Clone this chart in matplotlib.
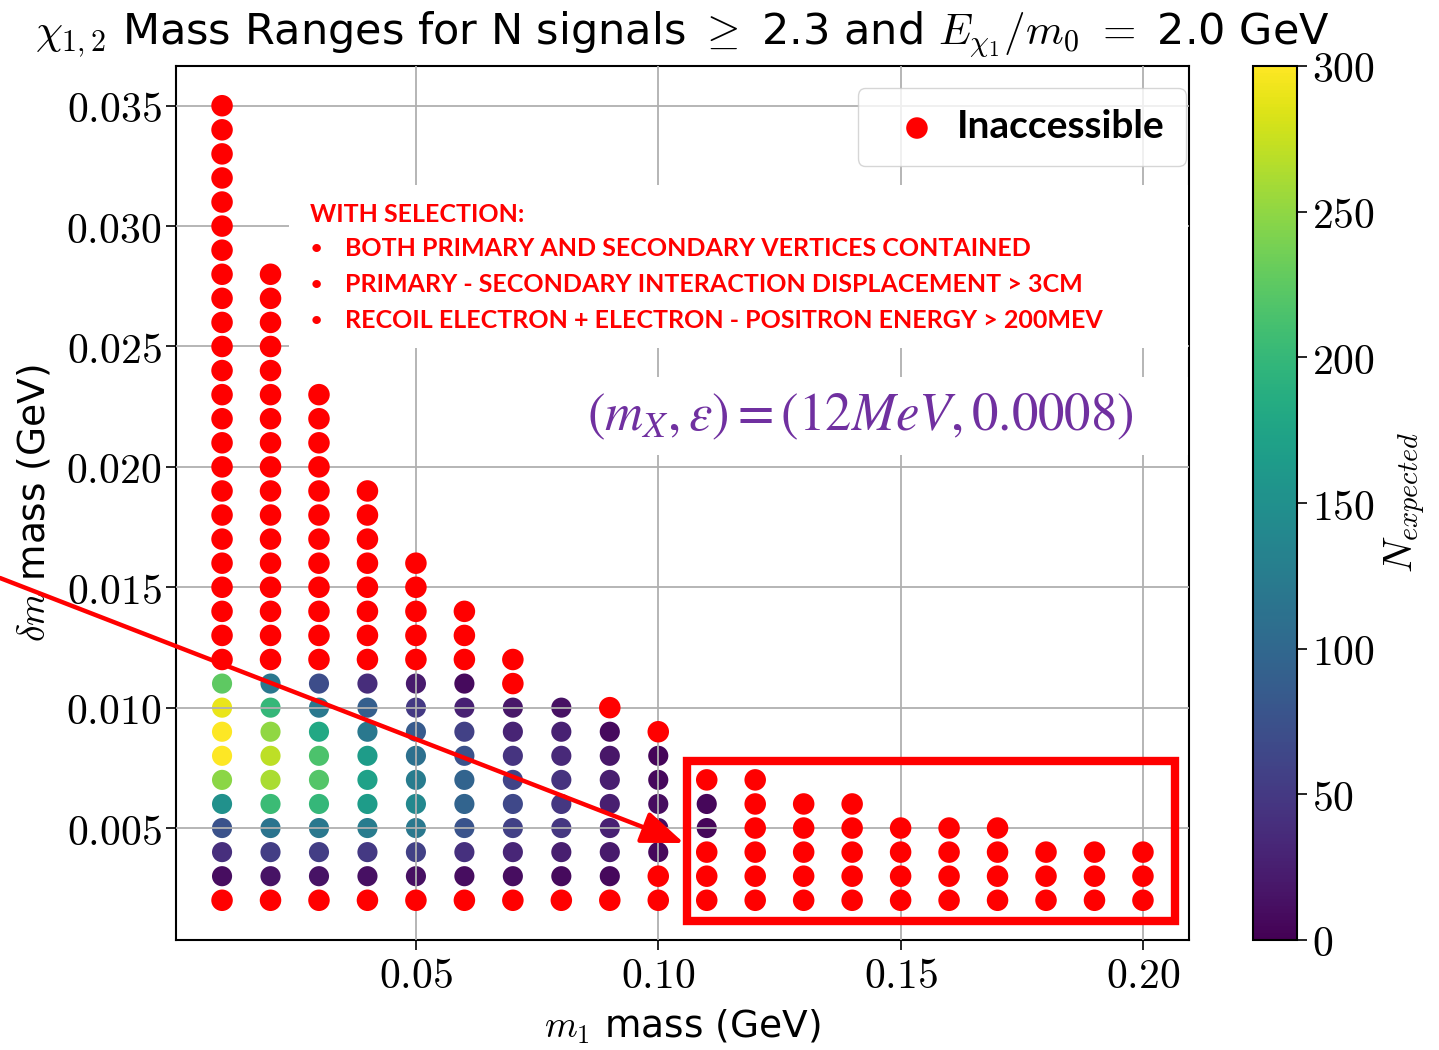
import matplotlib
matplotlib.use("Agg")
import matplotlib.pyplot as plt
from matplotlib.patches import Rectangle
from matplotlib.ticker import FuncFormatter

plt.rcParams['mathtext.fontset'] = 'cm'

# ---------------- data ----------------
m1_values = [0.01, 0.02, 0.03, 0.04, 0.05, 0.06, 0.07, 0.08, 0.09, 0.10,
             0.11, 0.12, 0.13, 0.14, 0.15, 0.16, 0.17, 0.18, 0.19, 0.20]
dm_grid = [0.002, 0.003, 0.004, 0.005, 0.006, 0.007, 0.008, 0.009, 0.010,
           0.011, 0.012, 0.013, 0.014, 0.015, 0.016, 0.017, 0.018, 0.019,
           0.020, 0.021, 0.022, 0.023, 0.024, 0.025, 0.026, 0.027, 0.028,
           0.029, 0.030, 0.031, 0.032, 0.033, 0.034, 0.035]
# highest delta-m sampled in each m1 column
dm_top = [0.035, 0.028, 0.023, 0.019, 0.016, 0.014, 0.012, 0.010, 0.010, 0.009,
          0.007, 0.007, 0.006, 0.006, 0.005, 0.005, 0.005, 0.004, 0.004, 0.004]
# accessible points: first delta-m of the accessible run and N_expected upward
acc_start = {0.01: 0.003, 0.02: 0.003, 0.03: 0.003, 0.04: 0.003, 0.05: 0.003,
             0.06: 0.003, 0.07: 0.003, 0.08: 0.003, 0.09: 0.003, 0.10: 0.004,
             0.11: 0.005}
acc_N = {
    0.01: [10, 40, 75, 150, 248, 300, 300, 290, 225],
    0.02: [15, 55, 115, 205, 262, 270, 250, 200, 120],
    0.03: [15, 55, 120, 200, 220, 215, 180, 120, 70],
    0.04: [12, 50, 125, 165, 170, 165, 120, 90, 38],
    0.05: [12, 58, 120, 140, 125, 110, 85, 50, 22],
    0.06: [10, 42, 78, 95, 95, 75, 58, 28, 8],
    0.07: [10, 32, 58, 65, 60, 45, 30, 18],
    0.08: [8, 25, 47, 47, 44, 34, 27, 14],
    0.09: [6, 20, 27, 25, 25, 18, 8],
    0.10: [6, 10, 10, 6, 4],
    0.11: [5, 5],
}

title_txt = (r'$\chi_{1,2}$ Mass Ranges for N signals $\geq$ 2.3 and '
             r'$E_{\chi_1}/m_0$ $=$ 2.0 GeV')
xlabel_txt = r'$m_1$ mass (GeV)'
ylabel_txt = r'$\delta m$ mass (GeV)'
cbar_label = r'$N_{expected}$'
legend_label = 'Inaccessible'
sel_title = 'WITH SELECTION:'
sel_items = ['BOTH PRIMARY AND SECONDARY VERTICES CONTAINED',
             'PRIMARY - SECONDARY INTERACTION DISPLACEMENT > 3CM',
             'RECOIL ELECTRON + ELECTRON - POSITRON ENERGY > 200MEV']
param_txt = r'$(m_X,\epsilon) = (12MeV,0.0008)$'
xticks = [0.05, 0.10, 0.15, 0.20]
yticks = [0.005, 0.010, 0.015, 0.020, 0.025, 0.030, 0.035]
cticks = [0, 50, 100, 150, 200, 250, 300]

# ---------------- build point lists ----------------
acc_x, acc_y, acc_c = [], [], []
red_x, red_y = [], []
for m, top in zip(m1_values, dm_top):
    accessible = {}
    if m in acc_N:
        i0 = dm_grid.index(acc_start[m])
        for k, n in enumerate(acc_N[m]):
            accessible[dm_grid[i0 + k]] = n
    for d in dm_grid:
        if d > top + 1e-9:
            break
        if d in accessible:
            acc_x.append(m); acc_y.append(d); acc_c.append(accessible[d])
        else:
            red_x.append(m); red_y.append(d)

# ---------------- figure ----------------
W, H = 1439, 1050
fig = plt.figure(figsize=(W / 100, H / 100), dpi=100)

def fx(px):
    return px / W

def fy(py):
    return 1 - py / H

ax = fig.add_axes([fx(176), fy(940), fx(1189) - fx(176), fy(66) - fy(940)])
cax = fig.add_axes([fx(1253), fy(940), fx(1297) - fx(1253), fy(66) - fy(940)])

ax.grid(True, color='#b0b0b0', linewidth=1.3, zorder=1.5)
ax.set_axisbelow(False)

sc = ax.scatter(acc_x, acc_y, c=acc_c, cmap='viridis', vmin=0, vmax=300,
                s=210, edgecolors='none', zorder=1)
ax.scatter(red_x, red_y, color='#ff0000', s=240, edgecolors='none', zorder=3,
           label=legend_label)

ax.margins(0.05)
ax.set_xticks(xticks)
ax.set_yticks(yticks)
ax.xaxis.set_major_formatter(FuncFormatter(lambda v, p: r'$%.2f$' % v))
ax.yaxis.set_major_formatter(FuncFormatter(lambda v, p: r'$%.3f$' % v))
ax.tick_params(labelsize=30, length=7, width=1.2)
for s in ax.spines.values():
    s.set_linewidth(1.5)

sans = ['DejaVu Sans']
ax.set_title(title_txt, fontsize=31, family=sans, pad=15)
ax.set_xlabel(xlabel_txt, fontsize=27, family=sans, labelpad=8)
ax.set_ylabel(ylabel_txt, fontsize=27, family=sans, labelpad=10)

leg = ax.legend(loc='upper right', bbox_to_anchor=(0.997, 0.975),
                borderaxespad=0, prop={'family': 'Lato', 'weight': 'bold', 'size': 28},
                handlelength=1.95, handletextpad=0.05, borderpad=0.55,
                framealpha=0.8, markerscale=1.0)

cb = fig.colorbar(sc, cax=cax, ticks=cticks)
cb.ax.yaxis.set_major_formatter(FuncFormatter(lambda v, p: r'$%d$' % v))
cb.ax.tick_params(labelsize=30, length=7, width=1.2)
cb.outline.set_linewidth(1.5)
cb.set_label(cbar_label, fontsize=29, labelpad=6)

# ---------------- overlay annotations ----------------
sel_box = Rectangle((fx(289), fy(348)), fx(1188) - fx(289), fy(185) - fy(348),
                    transform=fig.transFigure, facecolor='white', edgecolor='none',
                    zorder=5)
fig.add_artist(sel_box)
cal = ['Lato', 'DejaVu Sans']
fig.text(fx(310), fy(214), sel_title, color='#ff0000', fontsize=18,
         family=cal, weight='bold', va='center', ha='left', zorder=6)
for i, item in enumerate(sel_items):
    yy = fy(249 + 36 * i)
    fig.text(fx(311), yy, '\u2022', color='#ff0000', fontsize=14, family=cal,
             weight='bold', va='center', ha='left', zorder=6)
    fig.text(fx(345), yy, item, color='#ff0000', fontsize=18, family=cal,
             weight='bold', va='center', ha='left', zorder=6)

par_box = Rectangle((fx(570), fy(455)), fx(1188) - fx(570), fy(377) - fy(455),
                    transform=fig.transFigure, facecolor='white', edgecolor='none',
                    zorder=5)
fig.add_artist(par_box)
fig.text(fx(860), fy(416), param_txt, color='#7030a0', fontsize=38,
         math_fontfamily='stix', ha='center', va='center', zorder=6)

rect = Rectangle((fx(687), fy(921)), fx(1175) - fx(687), fy(761) - fy(921),
                 transform=fig.transFigure, facecolor='none', edgecolor='#ff0000',
                 linewidth=6, zorder=7)
fig.add_artist(rect)

ann = ax.annotate('', xy=(684, H - 843), xycoords='figure pixels',
                  xytext=(0, H - 578), textcoords='figure pixels',
                  arrowprops=dict(arrowstyle='-|>,head_length=1.3,head_width=0.5',
                                  mutation_scale=20, color='#ff0000',
                                  linewidth=3.2, shrinkA=0, shrinkB=0),
                  zorder=8, annotation_clip=False)

fig.savefig('out.png', dpi=100)
